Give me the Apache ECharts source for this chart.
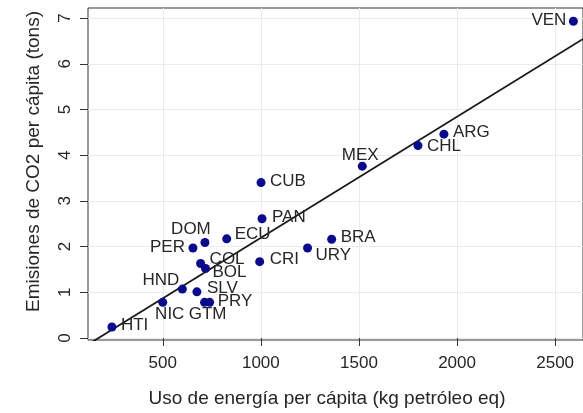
<!DOCTYPE html>
<html>
<head>
<meta charset="utf-8">
<script src="https://cdn.jsdelivr.net/npm/echarts@6/dist/echarts.min.js"></script>
<style>
  html, body { margin: 0; padding: 0; background: #fff; }
  #main { width: 583px; height: 413px; }
</style>
</head>
<body>
<div id="main"></div>
<script>
var myChart = echarts.init(document.getElementById('main'));

var paises = ['HTI', 'NIC', 'HND', 'SLV', 'GTM', 'PRY', 'COL', 'BOL', 'PER', 'DOM',
  'ECU', 'CUB', 'PAN', 'CRI', 'URY', 'BRA', 'MEX', 'CHL', 'ARG', 'VEN'];
// uso de energia per capita (kg petroleo eq)
var energia = [241, 500, 600, 674, 713, 739, 693, 718, 654, 715,
  826, 1001, 1006, 994, 1238, 1361, 1517, 1801, 1933, 2593];
// emisiones de CO2 per capita (tons)
var co2 = [0.24, 0.78, 1.07, 1.01, 0.78, 0.78, 1.63, 1.52, 1.97, 2.09,
  2.17, 3.40, 2.61, 1.67, 1.97, 2.16, 3.76, 4.21, 4.46, 6.93];

var xTicks = [500, 1000, 1500, 2000, 2500];
var yTicks = [0, 1, 2, 3, 4, 5, 6, 7];

// where each country label sits: [align, dx, dy]
var labelPos = {
  HTI: ['left', 9, -2], NIC: ['center', 7, 12], HND: ['right', -3, -9],
  SLV: ['left', 10, -4], GTM: ['center', 3, 12], PRY: ['left', 8, -1],
  COL: ['left', 9, -4], BOL: ['left', 7, 4], PER: ['right', -8, -1],
  DOM: ['center', -14, -13], ECU: ['left', 8, -4], CUB: ['left', 9, -1],
  PAN: ['left', 10, -1], CRI: ['left', 10, -2], URY: ['left', 8, 7],
  BRA: ['left', 9, -2], MEX: ['center', -2, -11], CHL: ['left', 9, 1],
  ARG: ['left', 9, -2], VEN: ['right', -7, -1]
};

var xMin = 119, xMax = 2642;
var fuente = "'Liberation Sans', Arial, sans-serif";
var fs = 17;      // ticks y etiquetas
var fsTit = 19;   // titulos de ejes

// recta de regresion (minimos cuadrados)
var n = energia.length, mx = 0, my = 0;
for (var i = 0; i < n; i++) { mx += energia[i]; my += co2[i]; }
mx /= n; my /= n;
var sxy = 0, sxx = 0;
for (var i = 0; i < n; i++) {
  sxy += (energia[i] - mx) * (co2[i] - my);
  sxx += (energia[i] - mx) * (energia[i] - mx);
}
var pendiente = sxy / sxx;
var intercepto = my - pendiente * mx;

var puntos = paises.map(function (p, i) {
  var lp = labelPos[p];
  return {
    value: [energia[i], co2[i]],
    label: {
      show: true,
      formatter: p,
      position: 'inside',
      align: lp[0],
      verticalAlign: 'middle',
      offset: [lp[1], lp[2]]
    }
  };
});

option = {
  backgroundColor: '#fff',
  animation: false,
  textStyle: { fontFamily: fuente },
  grid: {
    left: 88,
    right: -2,
    top: 8,
    bottom: 73,
    show: true,
    borderColor: '#333',
    borderWidth: 1
  },
  xAxis: {
    type: 'value',
    min: xMin,
    max: xMax,
    name: 'Uso de energía per cápita (kg petróleo eq)',
    nameLocation: 'middle',
    nameGap: 49,
    nameTextStyle: { fontSize: fsTit, color: '#262626', fontFamily: fuente, padding: [0, 17, 0, 0] },
    axisLine: { show: false },
    axisTick: { show: true, length: 8, inside: false, customValues: xTicks, lineStyle: { color: '#333' } },
    axisLabel: {
      customValues: xTicks, fontSize: fs, color: '#262626', margin: 15, fontFamily: fuente,
      formatter: function (v) { return String(v); }
    },
    splitLine: { show: true, lineStyle: { color: '#ebebeb', width: 1 } }
  },
  yAxis: {
    type: 'value',
    min: -0.044,
    max: 7.22,
    name: 'Emisiones de CO2 per cápita (tons)',
    nameLocation: 'middle',
    nameGap: 45,
    nameRotate: 90,
    nameTextStyle: { fontSize: fsTit, color: '#262626', fontFamily: fuente, padding: [0, 0, 0, 25] },
    axisLine: { show: false },
    axisTick: { show: true, length: 8, inside: false, customValues: yTicks, lineStyle: { color: '#333' } },
    axisLabel: { customValues: yTicks, rotate: 90, fontSize: fs, color: '#262626', margin: 14, fontFamily: fuente },
    splitLine: { show: true, lineStyle: { color: '#ebebeb', width: 1 } }
  },
  series: [
    {
      type: 'line',
      data: [[xMin, intercepto + pendiente * xMin], [xMax, intercepto + pendiente * xMax]],
      showSymbol: false,
      clip: true,
      lineStyle: { color: '#1a1a1a', width: 1.8 },
      z: 2
    },
    {
      type: 'scatter',
      data: puntos,
      symbolSize: 9,
      itemStyle: { color: '#0a0a8c', opacity: 1 },
      label: { fontSize: fs, color: '#262626', fontFamily: fuente },
      z: 3
    }
  ]
};
myChart.setOption(option);
</script>
</body>
</html>
